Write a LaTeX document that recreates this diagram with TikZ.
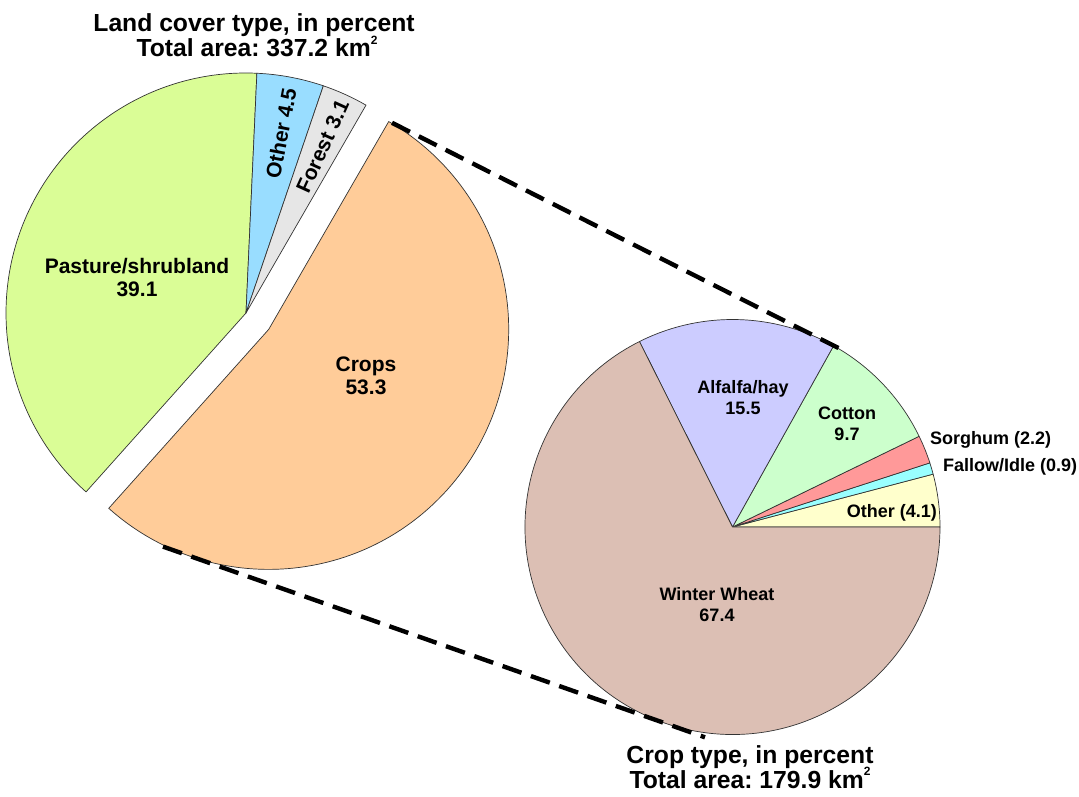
\documentclass[tikz,border=0pt]{standalone}
\usepackage{fontspec}
\setmainfont{Liberation Sans}
\frenchspacing
\definecolor{pasturec}{HTML}{DAFD96}
\definecolor{otherc}{HTML}{99DDFF}
\definecolor{forestc}{HTML}{E6E6E6}
\definecolor{cropsc}{HTML}{FFCC99}
\definecolor{wheatc}{HTML}{DCBFB4}
\definecolor{alfalfac}{HTML}{CCCCFF}
\definecolor{cottonc}{HTML}{CCFFCC}
\definecolor{sorghumc}{HTML}{FF9999}
\definecolor{fallowc}{HTML}{99FFFF}
\definecolor{otherrc}{HTML}{FFFFCC}
\newcommand\pieslice[5]{%
  \draw[sliceline, fill=#5] (#1) -- ++(#3:#2) arc[start angle=#3, end angle=#4, radius=#2] -- cycle;}
\tikzset{
  sliceline/.style={draw=black!80, line width=0.7pt, line join=round},
  zoomline/.style={draw=black, line width=4.4pt, dash pattern=on 20pt off 10pt},
  titlelab/.style={font=\bfseries\fontsize{24.7}{26}\selectfont, anchor=base, inner sep=0pt},
  leftlab/.style={font=\bfseries\fontsize{21}{23}\selectfont, align=center, inner sep=0pt},
  rightlab/.style={font=\bfseries\fontsize{18}{21}\selectfont, align=center, inner sep=0pt},
}
\newcommand\kmsq{km\raisebox{0.5em}{\fontsize{12}{12}\selectfont 2}}
\begin{document}
\begin{tikzpicture}[x=1pt,y=1pt]
\useasboundingbox[fill=white] (0,0) rectangle (1079,796);
% centres
\coordinate (O) at (246,483);
\coordinate (C) at (268.7,466.6);
\coordinate (R) at (732.5,269);
% left pie
\pieslice{O}{240pt}{87.4}{228.2}{pasturec}
\pieslice{O}{240pt}{71.2}{87.4}{otherc}
\pieslice{O}{240pt}{60.0}{71.2}{forestc}
\pieslice{C}{240pt}{-131.8}{60.0}{cropsc}
% right pie
\pieslice{R}{207.5pt}{0}{14.76}{otherrc}
\pieslice{R}{207.5pt}{14.76}{18.0}{fallowc}
\pieslice{R}{207.5pt}{18.0}{25.92}{sorghumc}
\pieslice{R}{207.5pt}{25.92}{60.84}{cottonc}
\pieslice{R}{207.5pt}{60.84}{116.64}{alfalfac}
\pieslice{R}{207.5pt}{116.64}{360}{wheatc}
% zoom lines
\coordinate (u1) at (392,673.2);
\coordinate (u2) at (839,447.7);
\coordinate (l1) at (163,249.4);
\coordinate (l2) at (705,58.7);
\draw[zoomline] (u1) -- (u2);
\draw[zoomline] (l1) -- (l2);
% titles
\node[titlelab] (t1) at (254,764) {Land cover type, in percent};
\node[titlelab] (t2) at (257,739) {Total area: 337.2 \kmsq};
\node[titlelab] (b1) at (750,33) {Crop type, in percent};
\node[titlelab] (b2) at (750,8) {Total area: 179.9 \kmsq};
% left labels
\node[leftlab] (pasture) at (137,518) {Pasture/shrubland\\39.1};
\node[leftlab] (crops) at (366,420) {Crops\\53.3};
\node[leftlab, rotate=79.3] (other) at (281,662.8) {Other 4.5};
\node[leftlab, rotate=65.6] (forest) at (322.6,649.7) {Forest 3.1};
% right labels
\node[rightlab] (alfalfa) at (743,398.5) {Alfalfa/hay\\15.5};
\node[rightlab] (cotton) at (847,372) {Cotton\\9.7};
\node[rightlab] (wheat) at (717,191) {Winter Wheat\\67.4};
\node[rightlab, anchor=west] (sorghum) at (930,356) {Sorghum (2.2)};
\node[rightlab, anchor=west] (fallow) at (943,329) {Fallow/Idle (0.9)};
\node[rightlab, anchor=east] (otherr) at (937,283) {Other (4.1)};
\end{tikzpicture}
\end{document}
